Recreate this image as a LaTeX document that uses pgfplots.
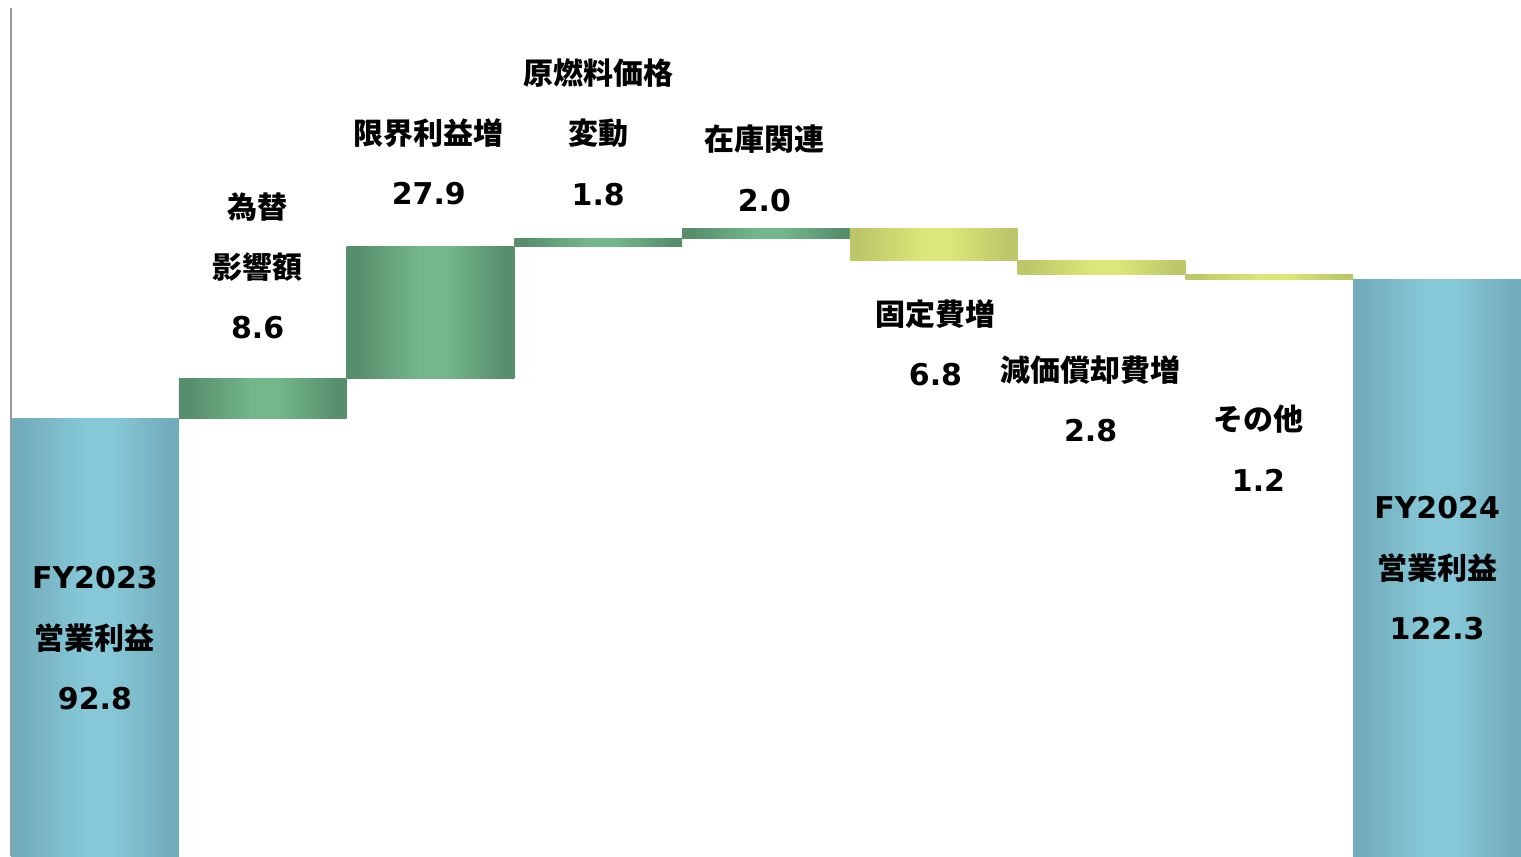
\documentclass[border=0pt]{standalone}
\usepackage{fontspec}
\setmainfont{DejaVu Sans}
\newfontfamily\jp{Noto Sans CJK JP}
\usepackage{pgfplots}
\pgfplotsset{compat=1.18}
\definecolor{bluee}{HTML}{73ADBB}
\definecolor{bluec}{HTML}{86C8D8}
\definecolor{greene}{HTML}{578E6C}
\definecolor{greenc}{HTML}{73B78B}
\definecolor{yele}{HTML}{BDC769}
\definecolor{yelc}{HTML}{DBE778}
\pgfdeclarehorizontalshading{shblue}{100bp}{color(0bp)=(bluee); color(25bp)=(bluee); color(28bp)=(bluee); color(47bp)=(bluec); color(55bp)=(bluec); color(72bp)=(bluee); color(75bp)=(bluee); color(100bp)=(bluee)}
\pgfdeclarehorizontalshading{shgreen}{100bp}{color(0bp)=(greene); color(25bp)=(greene); color(28bp)=(greene); color(47bp)=(greenc); color(55bp)=(greenc); color(72bp)=(greene); color(75bp)=(greene); color(100bp)=(greene)}
\pgfdeclarehorizontalshading{shyel}{100bp}{color(0bp)=(yele); color(25bp)=(yele); color(28bp)=(yele); color(47bp)=(yelc); color(55bp)=(yelc); color(72bp)=(yele); color(75bp)=(yele); color(100bp)=(yele)}
\begin{document}
\begin{tikzpicture}[lbl/.style={font=\bfseries\fontsize{15}{18}\selectfont, inner sep=0pt}]
\begin{axis}[
  scale only axis, width=755pt, height=424pt,
  xmin=-0.5, xmax=8.5, ymin=0, ymax=180,
  axis x line=none, axis y line=left,
  axis line style={-}, y axis line style={draw=black!40, line width=0.9pt},
  ytick=\empty, xtick=\empty,
  clip=false,
  blue bar/.style={draw=none, shade, shading=shblue, shading angle=0, mark=none},
  green bar/.style={draw=none, shade, shading=shgreen, shading angle=0, mark=none},
  yel bar/.style={draw=none, shade, shading=shyel, shading angle=0, mark=none},
]
% FY2023 total 92.8
\addplot[blue bar] coordinates {(-0.5,0) (0.5,0) (0.5,92.8) (-0.5,92.8)} -- cycle;
% +8.6  (92.8 -> 101.4)
\addplot[green bar] coordinates {(0.5,92.8) (1.5,92.8) (1.5,101.4) (0.5,101.4)} -- cycle;
% +27.9 (101.4 -> 129.3)
\addplot[green bar] coordinates {(1.5,101.4) (2.5,101.4) (2.5,129.3) (1.5,129.3)} -- cycle;
% +1.8  (129.3 -> 131.1)
\addplot[green bar] coordinates {(2.5,129.3) (3.5,129.3) (3.5,131.1) (2.5,131.1)} -- cycle;
% +2.0  (131.1 -> 133.1)
\addplot[green bar] coordinates {(3.5,131.1) (4.5,131.1) (4.5,133.1) (3.5,133.1)} -- cycle;
% -6.8  (133.1 -> 126.3)
\addplot[yel bar] coordinates {(4.5,126.3) (5.5,126.3) (5.5,133.1) (4.5,133.1)} -- cycle;
% -2.8  (126.3 -> 123.5)
\addplot[yel bar] coordinates {(5.5,123.5) (6.5,123.5) (6.5,126.3) (5.5,126.3)} -- cycle;
% -1.2  (123.5 -> 122.3)
\addplot[yel bar] coordinates {(6.5,122.3) (7.5,122.3) (7.5,123.5) (6.5,123.5)} -- cycle;
% FY2024 total 122.3
\addplot[blue bar] coordinates {(7.5,0) (8.5,0) (8.5,122.3) (7.5,122.3)} -- cycle;

\coordinate (a1) at (axis cs:0,59.0);
\coordinate (a2) at (axis cs:0,46.3);
\coordinate (a3) at (axis cs:0,33.5);
\coordinate (b1) at (axis cs:0.97,137.7);
\coordinate (b2) at (axis cs:0.97,125.0);
\coordinate (b3) at (axis cs:0.97,112.1);
\coordinate (c1) at (axis cs:1.99,153.4);
\coordinate (c2) at (axis cs:1.99,140.7);
\coordinate (d1) at (axis cs:3.0,166.2);
\coordinate (d2) at (axis cs:3.0,153.4);
\coordinate (d3) at (axis cs:3.0,140.3);
\coordinate (e1) at (axis cs:3.99,152.2);
\coordinate (e2) at (axis cs:3.99,139.2);
\coordinate (f1) at (axis cs:5.01,115.0);
\coordinate (f2) at (axis cs:5.01,102.1);
\coordinate (g1) at (axis cs:5.935,103.1);
\coordinate (g2) at (axis cs:5.935,90.4);
\coordinate (h1) at (axis cs:6.935,92.7);
\coordinate (h2) at (axis cs:6.935,79.8);
\coordinate (i1) at (axis cs:8.0,73.9);
\coordinate (i2) at (axis cs:8.0,61.1);
\coordinate (i3) at (axis cs:8.0,48.2);
\end{axis}
\node[lbl] at (a1) {FY2023};
\node[lbl] at (a2) {\jp\bfseries 営業利益};
\node[lbl] at (a3) {92.8};
\node[lbl] at (b1) {\jp\bfseries 為替};
\node[lbl] at (b2) {\jp\bfseries 影響額};
\node[lbl] at (b3) {8.6};
\node[lbl] at (c1) {\jp\bfseries 限界利益増};
\node[lbl] at (c2) {27.9};
\node[lbl] at (d1) {\jp\bfseries 原燃料価格};
\node[lbl] at (d2) {\jp\bfseries 変動};
\node[lbl] at (d3) {1.8};
\node[lbl] at (e1) {\jp\bfseries 在庫関連};
\node[lbl] at (e2) {2.0};
\node[lbl] at (f1) {\jp\bfseries 固定費増};
\node[lbl] at (f2) {6.8};
\node[lbl] at (g1) {\jp\bfseries 減価償却費増};
\node[lbl] at (g2) {2.8};
\node[lbl] at (h1) {\jp\bfseries その他};
\node[lbl] at (h2) {1.2};
\node[lbl] at (i1) {FY2024};
\node[lbl] at (i2) {\jp\bfseries 営業利益};
\node[lbl] at (i3) {122.3};
\pgfresetboundingbox
\path (current axis.south west) ++(-5.5pt,0pt) coordinate (bl);
\path (current axis.north east) ++(-1pt,4pt) coordinate (tr);
\path[use as bounding box] (bl) rectangle (tr);
\end{tikzpicture}
\end{document}
